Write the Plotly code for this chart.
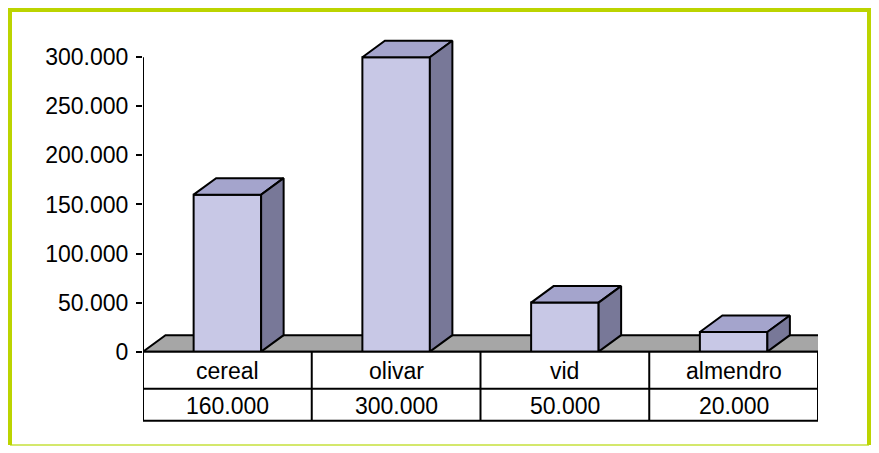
import plotly.graph_objects as go

# ---- data ----
categories = ["cereal", "olivar", "vid", "almendro"]
values = [160000, 300000, 50000, 20000]
tick_values = [0, 50000, 100000, 150000, 200000, 250000, 300000]

def fmt(v):
    return f"{v:,}".replace(",", ".")

tick_labels = [fmt(v) for v in tick_values]

# ---- geometry / style ----
OFF = 8            # page body margin
KY = 453 / 467     # observed vertical scale of the capture
W = 879 - 2 * OFF
H = 467 - 2 * OFF
FONT = "Liberation Sans, Arial, sans-serif"
FS = 23
FRONT = "#c8c8e6"
TOP = "#a4a4cc"
SIDE = "#787898"
FLOOR = "#a6a6a6"
BORDER = "#bcd400"
BORDER_LIGHT = "#d4e86c"

def px(x):
    return (x - OFF) / W

def py(y):
    return 1 - (y / KY - OFF) / H

x_left, x_right = 143, 818
y_zero, y_300 = 351, 57
y_top = 35
units_per_px = 300000 / (y_zero - y_300)
y_max = (y_zero - y_top) * units_per_px

bw = 0.4                      # bar width (category units)
cat_px = (x_right - x_left) / 4
dx = 22.5 / cat_px            # depth offset in x (category units)
dy = 16.5 * units_per_px      # depth offset in y (data units)

fig = go.Figure()
xs = list(range(len(categories)))

# front faces
fig.add_trace(go.Bar(
    x=xs, y=values, width=bw,
    marker=dict(color=FRONT, line=dict(color="black", width=2)),
    hoverinfo="skip", showlegend=False,
))

# top and side faces
for i, v in zip(xs, values):
    l, r = i - bw / 2, i + bw / 2
    fig.add_trace(go.Scatter(
        x=[l, l + dx, r + dx, r, l], y=[v, v + dy, v + dy, v, v],
        mode="lines", fill="toself", fillcolor=TOP,
        line=dict(color="black", width=2), hoverinfo="skip", showlegend=False,
    ))
    fig.add_trace(go.Scatter(
        x=[r, r + dx, r + dx, r, r], y=[0, dy, v + dy, v, 0],
        mode="lines", fill="toself", fillcolor=SIDE,
        line=dict(color="black", width=2), hoverinfo="skip", showlegend=False,
    ))

shapes = []
# floor
shapes.append(dict(
    type="path", xref="x", yref="y", layer="below",
    path=f"M -0.5 0 L {-0.5 + dx} {dy} L {3.5 + dx} {dy} L 3.5 0 Z",
    fillcolor=FLOOR, line=dict(color="black", width=2),
))
# y axis line
shapes.append(dict(type="line", xref="x", yref="y", x0=-0.5, x1=-0.5,
                   y0=0, y1=300000, line=dict(color="black", width=2)))
# data table
row1, row2 = 388, 420
for yy in (y_zero, row1, row2):
    shapes.append(dict(type="line", xref="x", yref="paper", x0=-0.5, x1=3.5,
                       y0=py(yy), y1=py(yy), line=dict(color="black", width=2)))
for k in range(len(categories) + 1):
    shapes.append(dict(type="line", xref="x", yref="paper", x0=k - 0.5, x1=k - 0.5,
                       y0=py(y_zero), y1=py(row2), line=dict(color="black", width=2)))

# outer frame (as close to the page edge as the figure allows)
bx0, bx1 = 2 / W, 1 - 2 / W
by0, by1 = 1 / H, 1 - 2 / H
shapes.append(dict(type="line", xref="paper", yref="paper", x0=bx0, x1=bx1,
                   y0=by0, y1=by0, line=dict(color=BORDER_LIGHT, width=2)))
shapes.append(dict(type="line", xref="paper", yref="paper", x0=bx1, x1=bx1,
                   y0=by0, y1=by1 + 2 / H, line=dict(color=BORDER, width=4)))
shapes.append(dict(type="line", xref="paper", yref="paper", x0=bx0 - 2 / W, x1=bx1 + 2 / W,
                   y0=by1, y1=by1, line=dict(color=BORDER, width=4)))
shapes.append(dict(type="line", xref="paper", yref="paper", x0=bx0, x1=bx0,
                   y0=by0, y1=by1 + 2 / H, line=dict(color=BORDER, width=4)))

annotations = []
for i, (c, v) in enumerate(zip(categories, values)):
    annotations.append(dict(x=i, y=py(370.5), xref="x", yref="paper", text=c,
                            xanchor="center", yanchor="middle",
                            showarrow=False, font=dict(family=FONT, size=FS, color="black")))
    annotations.append(dict(x=i, y=py(405), xref="x", yref="paper", text=fmt(v),
                            xanchor="center", yanchor="middle",
                            showarrow=False, font=dict(family=FONT, size=FS, color="black")))

fig.update_layout(
    width=W, height=H,
    margin=dict(l=0, r=0, t=0, b=0),
    paper_bgcolor="white", plot_bgcolor="rgba(0,0,0,0)",
    shapes=shapes, annotations=annotations,
    xaxis=dict(domain=[px(x_left), px(x_right)], range=[-0.5, 3.5],
               visible=False, fixedrange=True),
    yaxis=dict(domain=[py(y_zero), py(y_top)], range=[0, y_max],
               tickvals=tick_values, ticktext=tick_labels,
               ticks="outside", ticklen=6, tickwidth=2, tickcolor="black",
               showgrid=False, zeroline=False, showline=False,
               ticklabelstandoff=3,
               tickfont=dict(family=FONT, size=FS, color="black"),
               fixedrange=True),
    font=dict(family=FONT),
)

fig.write_html("out.html")
